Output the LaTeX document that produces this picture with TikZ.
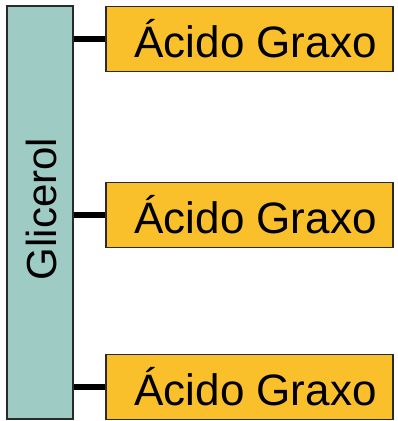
\documentclass[tikz,border=0pt]{standalone}
\usepackage{fontspec}
\setmainfont{Liberation Sans}
\definecolor{glic}{HTML}{9ECCC4}
\definecolor{acid}{HTML}{F9C02C}
\definecolor{edge}{HTML}{2A2A2A}
\begin{document}
\begin{tikzpicture}[x=1pt,y=1pt,
  glicbox/.style={draw=edge,line width=1.8pt,fill=glic,inner sep=0pt},
  acidbox/.style={draw=edge,line width=1.8pt,fill=acid,inner sep=0pt,minimum width=287pt,minimum height=65pt,
    font=\fontsize{44}{50}\selectfont},
  link/.style={line width=6pt,draw=black}]
\useasboundingbox (0,0) rectangle (397,-421);
\node[glicbox,minimum width=66pt,minimum height=413pt] (g) at (40,-212.5) {};
\node[rotate=90,font=\fontsize{42}{48}\selectfont] (gt) at (41,-209) {Glicerol};
\node[acidbox] (a1) at (249.5,-39) {\hspace*{12pt}\raisebox{-6pt}{Ácido Graxo}};
\node[acidbox] (a2) at (249.5,-215) {\hspace*{12pt}\raisebox{-6pt}{Ácido Graxo}};
\node[acidbox] (a3) at (249.5,-387) {\hspace*{12pt}\raisebox{-6pt}{Ácido Graxo}};
\draw[link] (g.east |- a1.west) -- (a1.west);
\draw[link] (g.east |- a2.west) -- (a2.west);
\draw[link] (g.east |- a3.west) -- (a3.west);
\end{tikzpicture}
\end{document}
